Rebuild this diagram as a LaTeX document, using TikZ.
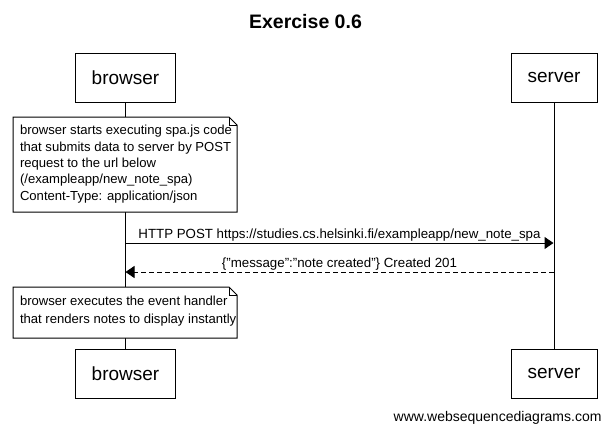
\documentclass[tikz,border=0pt]{standalone}
\usepackage{fontspec}
\setmainfont{Liberation Sans}
\usetikzlibrary{arrows.meta}
\begin{document}
\begin{tikzpicture}[x=1pt,y=-1pt,
  line width=1pt,
  actor/.style={draw, fill=white, minimum height=49pt, inner sep=0pt, font=\fontsize{19}{22}\selectfont},
  notebox/.style={fill=none, draw=none, inner xsep=6.5pt, inner ysep=0pt, align=left, anchor=north west, font=\fontsize{13.1}{16.3}\selectfont},
  msglabel/.style={font=\fontsize{13.3}{15}\selectfont, inner sep=1.5pt, above},
  msg/.style={-{Triangle[length=9pt,width=12pt]}},
  reply/.style={msg, dash pattern=on 5pt off 3pt},
  titlestyle/.style={font=\fontsize{19.5}{22}\selectfont\bfseries}]
\useasboundingbox (0,0) rectangle (611,432);
\fill[white] (0,0) rectangle (611,432);
\node[titlestyle] (title) at (305.5,22) {Exercise 0.6};
\node[actor, minimum width=100pt] (b1) at (125.5,77.5) {browser};
\node[actor, minimum width=86pt] (s1) at (554,77.5) {server};
\node[actor, minimum width=100pt] (b2) at (125.5,373.5) {browser};
\node[actor, minimum width=86pt] (s2) at (554,373.5) {server};
\draw (b1) -- (b2);
\draw (s1) -- (s2);
% note 1
\coordinate (n1a) at (13,117);
\coordinate (n1b) at (237,212);
\draw[fill=white] (n1a) -- ([xshift=-8pt]n1b |- n1a) -- ([yshift=-8pt]n1b |- n1a) -- (n1b) -- (n1a |- n1b) -- cycle;
\draw ([xshift=-8pt]n1b |- n1a) |- ([yshift=-8pt]n1b |- n1a);
\node[notebox] (n1) at ([yshift=-8pt]n1a) {browser starts executing spa.js code\\that submits data to server by POST\\request to the url below\\(/exampleapp/new\_note\_spa)\\Content-Type: application/json};
% messages
\coordinate (m1s) at (125.5,243);
\coordinate (m1e) at (553.5,243);
\draw[msg] (m1s) -- node[msglabel] (l1) {HTTP POST https://studies.cs.helsinki.fi/exampleapp/new\_note\_spa} (m1e);
\coordinate (m2s) at (553.5,272);
\coordinate (m2e) at (125.5,272);
\draw[reply] (m2s) -- node[msglabel] (l2) {\{"message":"note created"\} Created 201} (m2e);
% note 2
\coordinate (n2a) at (13,287);
\coordinate (n2b) at (237,338);
\draw[fill=white] (n2a) -- ([xshift=-8pt]n2b |- n2a) -- ([yshift=-8pt]n2b |- n2a) -- (n2b) -- (n2a |- n2b) -- cycle;
\draw ([xshift=-8pt]n2b |- n2a) |- ([yshift=-8pt]n2b |- n2a);
\node[notebox, font=\fontsize{13.1}{17.5}\selectfont] (n2) at ([yshift=-9pt]n2a) {browser executes the event handler\\that renders notes to display instantly};
\node[font=\fontsize{14}{16}\selectfont, anchor=base east, inner sep=0pt] (footer) at (602,421) {www.websequencediagrams.com};
\end{tikzpicture}
\end{document}
